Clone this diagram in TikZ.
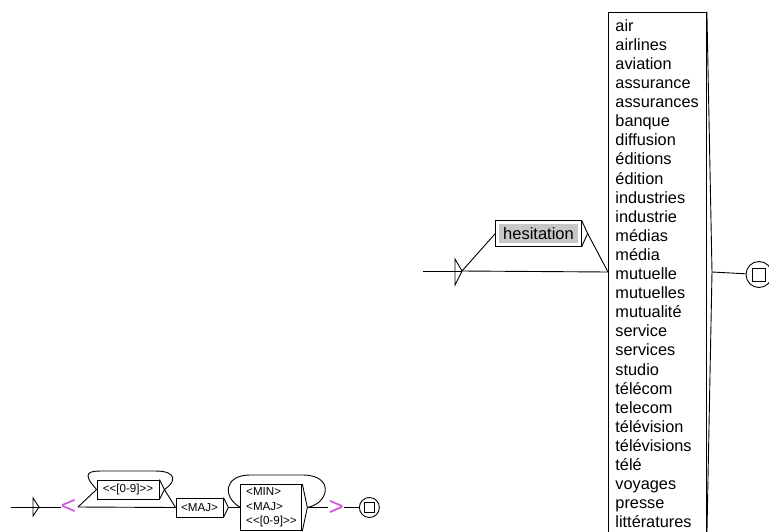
\documentclass[tikz,border=0pt]{standalone}
\usepackage{fontspec}
\setmainfont{Liberation Sans}
\usetikzlibrary{fit,positioning}
\definecolor{varcol}{RGB}{205,85,220}
\tikzset{
  every edge/.style={draw,line width=0.9pt},
  wordbox/.style={draw,line width=0.9pt,rectangle,inner xsep=3pt,inner ysep=2pt,font=\fontsize{11.6}{14.3}\selectfont},
  listbox/.style={draw,line width=0.9pt,rectangle,align=left,inner xsep=7pt,inner ysep=7pt,text width=84pt,font=\fontsize{16.3}{19.1}\selectfont},
  tag/.style={text=varcol,inner sep=0pt,font=\fontsize{26}{26}\selectfont},
  final/.style={draw,line width=0.9pt,circle,inner sep=0pt},
  finalbox/.style={draw,line width=0.9pt,rectangle,inner sep=0pt}
}
\begin{document}
\begin{tikzpicture}[x=1pt,y=-1pt,node distance=17pt]
\useasboundingbox (0,0) rectangle (769,531);
% lower graph
\coordinate (in) at (11,507);
\coordinate (starta) at (33,498);
\coordinate (startb) at (33,516);
\coordinate (starttip) at (39,507);
\node[tag] (open) at (68.5,507) {<};
\coordinate (openout) at (78,507);
\node[wordbox,minimum width=62pt,minimum height=19pt] (digits) at (128,489.5) {<{}<[0-9]>{}>};
\node[wordbox,minimum width=47pt,minimum height=19pt] (maj) at (199.5,507.5) {<MAJ>};
\coordinate[right=5pt of digits.east] (digitstip);
\coordinate[right=5pt of maj.east] (majtip);
\node[wordbox,minimum width=61pt,minimum height=46pt,align=left,right=of maj] (words) {<MIN>\\<MAJ>\\<{}<[0-9]>{}>};
\coordinate[right=5pt of words.east] (wordstip);
\node[tag,right=21pt of wordstip] (close) {>};
\node[final,minimum size=20pt,right=15pt of close] (sink) {};
\node[finalbox,minimum size=10pt] at (sink) (sinkbox) {};
\path (in) edge (starttip);
\draw[line width=0.9pt] (starta) -- (starttip) -- (startb) -- cycle;
\path (starttip) edge (open);
\path (openout) edge (digits.west);
\path (openout) edge (maj.west);
\draw[line width=0.9pt] (digits.north east) -- (digitstip) -- (digits.south east);
\path (digitstip) edge (maj.west);
\draw[line width=0.9pt] (digits.west) .. controls (80,471) and (90,471) .. (105,471) -- (155,471) .. controls (178,471) and (176,482) .. (digitstip);
\draw[line width=0.9pt] (maj.north east) -- (majtip) -- (maj.south east);
\path (majtip) edge (words.west);
\draw[line width=0.9pt] (words.north east) -- (wordstip) -- (words.south east);
\path (wordstip) edge (close);
\draw[line width=0.9pt] (words.west) .. controls (222,497) and (224,475) .. (250,475) -- (303,475) .. controls (334,475) and (330,503) .. (wordstip);
\path (close) edge (sink);
% upper graph
\coordinate (hin) at (423,271);
\coordinate (hstarta) at (455,259);
\coordinate (hstartb) at (455,285);
\coordinate (hstarttip) at (462,271);
\node[fill=black!22,inner xsep=3pt,inner ysep=2pt,minimum width=79pt,minimum height=19pt,font=\fontsize{16.5}{19}\selectfont] (hes) at (538.5,233.5) {hesitation};
\node[draw,line width=0.9pt,inner sep=3pt,fit=(hes)] (hesbox) {};
\coordinate[right=6pt of hesbox.east] (hestip);
\node[listbox,anchor=north west] (list) at (608,12) {air\\airlines\\aviation\\assurance\\assurances\\banque\\diffusion\\éditions\\édition\\industries\\industrie\\médias\\média\\mutuelle\\mutuelles\\mutualité\\service\\services\\studio\\télécom\\telecom\\télévision\\télévisions\\télé\\voyages\\presse\\littératures};
\coordinate (listtip) at (712,272);
\node[final,minimum size=26pt] (hsink) at (759,274.5) {};
\node[finalbox,minimum size=13pt] at (hsink) (hsinkbox) {};
\path (hin) edge (hstarttip);
\draw[line width=0.9pt] (hstarta) -- (hstarttip) -- (hstartb) -- cycle;
\path (hstarttip) edge (hesbox.west);
\path (hstarttip) edge (608,272);
\draw[line width=0.9pt] (hesbox.north east) -- (hestip) -- (hesbox.south east);
\path (hestip) edge (608,272);
\draw[line width=0.9pt] (list.north east) -- (listtip) -- (list.south east);
\path (listtip) edge (hsink);
\end{tikzpicture}
\end{document}
